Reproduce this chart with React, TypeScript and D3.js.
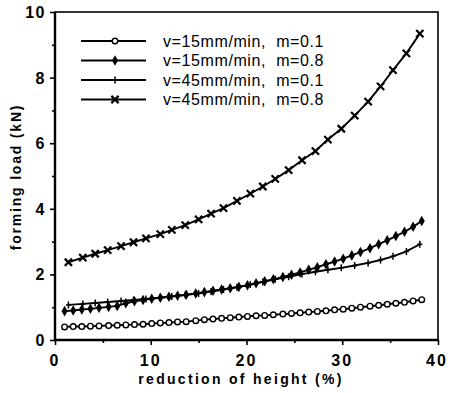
import { useEffect, useRef } from 'react'
import * as d3 from 'd3'

// reduction of height (%) sample positions
const x15 = [1.0,1.9,2.8,3.7,4.6,5.6,6.5,7.4,8.3,9.2,10.1,11.0,11.9,12.8,13.7,14.7,15.6,16.5,17.4,18.3,19.2,20.1,21.0,21.9,22.8,23.8,24.7,25.6,26.5,27.4,28.3,29.2,30.1,31.0,31.9,32.9,33.8,34.7,35.6,36.5,37.4,38.3]
const x45 = [1.4,2.9,4.2,5.5,6.9,8.2,9.5,11.0,12.2,13.6,15.0,16.3,17.6,19.0,20.4,21.7,23.0,24.4,25.8,27.2,28.5,29.9,31.3,32.7,34.0,35.3,36.7,38.1]

// forming load (kN)
const v15m01 = [0.40,0.41,0.41,0.42,0.43,0.44,0.45,0.46,0.47,0.48,0.50,0.52,0.53,0.55,0.56,0.59,0.62,0.64,0.66,0.68,0.70,0.72,0.74,0.75,0.77,0.79,0.81,0.83,0.85,0.87,0.89,0.92,0.94,0.97,1.00,1.03,1.06,1.09,1.12,1.15,1.19,1.23]
const v15m08 = [0.88,0.90,0.93,0.95,0.98,1.01,1.04,1.12,1.18,1.22,1.26,1.29,1.32,1.35,1.38,1.42,1.46,1.50,1.54,1.58,1.62,1.67,1.73,1.79,1.85,1.92,1.99,2.06,2.14,2.22,2.31,2.39,2.48,2.58,2.68,2.80,2.92,3.04,3.17,3.30,3.45,3.63]
const v45m01 = [1.07,1.10,1.13,1.16,1.19,1.22,1.25,1.29,1.33,1.37,1.42,1.48,1.54,1.61,1.69,1.77,1.85,1.93,2.01,2.08,2.14,2.20,2.27,2.35,2.44,2.55,2.70,2.92]
const v45m08 = [2.37,2.51,2.63,2.74,2.86,2.98,3.10,3.23,3.36,3.50,3.68,3.85,4.02,4.24,4.46,4.68,4.91,5.18,5.48,5.76,6.11,6.44,6.84,7.27,7.73,8.23,8.74,9.34]

const labels = ['v=15mm/min,  m=0.1','v=15mm/min,  m=0.8','v=45mm/min,  m=0.1','v=45mm/min,  m=0.8']
const xTicks = [0,10,20,30,40]
const yTicks = [0,2,4,6,8,10]

type Mark = 'circle'|'diamond'|'plus'|'times'

export default function App() {
  const ref = useRef<SVGSVGElement>(null)

  useEffect(() => {
    const svg = d3.select(ref.current!)
    svg.selectAll('*').remove()
    const W = 450, H = 393
    svg.attr('width', W).attr('height', H)
    svg.append('rect').attr('width', W).attr('height', H).attr('fill', '#fff')

    const x = d3.scaleLinear().domain([0, 40]).range([55, 438])
    const y = d3.scaleLinear().domain([0, 10]).range([340, 12])
    const font = 'Liberation Sans, Arial, sans-serif'

    // frame
    svg.append('rect').attr('x', x(0)).attr('y', y(10)).attr('width', x(40)-x(0)).attr('height', y(0)-y(10))
      .attr('fill','none').attr('stroke','#000').attr('stroke-width',1.6)
    svg.append('line').attr('x1',x(0)).attr('x2',x(0)).attr('y1',y(10)).attr('y2',y(0)).attr('stroke','#000').attr('stroke-width',2.4)
    svg.append('line').attr('x1',x(0)).attr('x2',x(40)).attr('y1',y(0)).attr('y2',y(0)).attr('stroke','#000').attr('stroke-width',2.4)

    // axes
    const gx = svg.append('g').attr('transform',`translate(0,${y(0)})`)
      .call(d3.axisBottom(x).tickValues(d3.range(0, 41, 5)).tickSize(5).tickFormat(() => ''))
    gx.select('.domain').remove()
    gx.selectAll('.tick line').attr('stroke-width',1.6).attr('y2', (d:any) => d % 10 === 0 ? 5 : 3)
    const gy = svg.append('g').attr('transform',`translate(${x(0)},0)`)
      .call(d3.axisLeft(y).tickValues(d3.range(0, 11, 1)).tickSize(5).tickFormat(() => ''))
    gy.select('.domain').remove()
    gy.selectAll('.tick line').attr('stroke-width',1.6).attr('x2', (d:any) => d % 2 === 0 ? -5 : -3)

    svg.append('g').selectAll('text').data(xTicks).join('text')
      .attr('x', d => x(d) + (d === 40 ? -1 : 0)).attr('y', 366).attr('text-anchor','middle')
      .attr('font-family', font).attr('font-size', 16).attr('font-weight','bold').attr('letter-spacing', 2)
      .text(d => d)
    svg.append('g').selectAll('text').data(yTicks).join('text')
      .attr('x', 46).attr('y', d => y(d) + 6).attr('text-anchor','end')
      .attr('font-family', font).attr('font-size', 16).attr('font-weight','bold').attr('letter-spacing', 1.5)
      .text(d => d)

    svg.append('text').attr('x', 241).attr('y', 384).attr('text-anchor','middle')
      .attr('font-family', font).attr('font-size', 14).attr('font-weight','bold').attr('letter-spacing', 2.3)
      .text('reduction of height (%)')
    svg.append('text').attr('transform','translate(21,177) rotate(-90)').attr('text-anchor','middle')
      .attr('font-family', font).attr('font-size', 14).attr('font-weight','bold').attr('letter-spacing', 1.8)
      .text('forming load (kN)')

    function marker(g: d3.Selection<SVGGElement, unknown, null, undefined>, type: Mark, cx: number, cy: number) {
      if (type === 'circle') {
        g.append('circle').attr('cx',cx).attr('cy',cy).attr('r',2.8).attr('fill','#fff').attr('stroke','#000').attr('stroke-width',1.4)
      } else if (type === 'diamond') {
        g.append('path').attr('transform',`translate(${cx},${cy})`).attr('d', d3.symbol(d3.symbolDiamond, 32)()!).attr('fill','#000')
      } else if (type === 'plus') {
        g.append('path').attr('d',`M${cx},${cy-3.5}V${cy+3.5}M${cx-2.5},${cy}H${cx+2.5}`).attr('stroke','#000').attr('stroke-width',1.5)
      } else {
        g.append('path').attr('transform',`translate(${cx},${cy})`).attr('d', d3.symbol(d3.symbolTimes, 36)()!).attr('fill','none').attr('stroke','#000').attr('stroke-width',2.2)
      }
    }

    const series: { xs: number[]; ys: number[]; mark: Mark }[] = [
      { xs: x15, ys: v15m01, mark: 'circle' },
      { xs: x15, ys: v15m08, mark: 'diamond' },
      { xs: x45, ys: v45m01, mark: 'plus' },
      { xs: x45, ys: v45m08, mark: 'times' },
    ]
    const line = d3.line<[number, number]>().x(p => x(p[0])).y(p => y(p[1]))
    series.forEach(s => {
      const pts = s.xs.map((v, i) => [v, s.ys[i]] as [number, number])
      const g = svg.append('g')
      g.append('path').datum(pts).attr('fill','none').attr('stroke','#000').attr('stroke-width',1.9).attr('d', line as any)
      pts.forEach(p => marker(g as any, s.mark, x(p[0]), y(p[1])))
    })

    // legend
    const lg = svg.append('g')
    series.forEach((s, i) => {
      const ly = 41 + i * 19.5
      lg.append('line').attr('x1',81).attr('x2',146).attr('y1',ly).attr('y2',ly).attr('stroke','#000').attr('stroke-width',1.8)
      marker(lg as any, s.mark, 115, ly)
      lg.append('text').attr('x',163).attr('y',ly+5.5).attr('font-family',font).attr('font-size',16).attr('letter-spacing',0.6)
        .style('white-space','pre').text(labels[i])
    })
  }, [])

  return (
    <div style={{ position: 'fixed', left: 0, top: 0 }}>
      <svg ref={ref} style={{ display: 'block' }} />
    </div>
  )
}
